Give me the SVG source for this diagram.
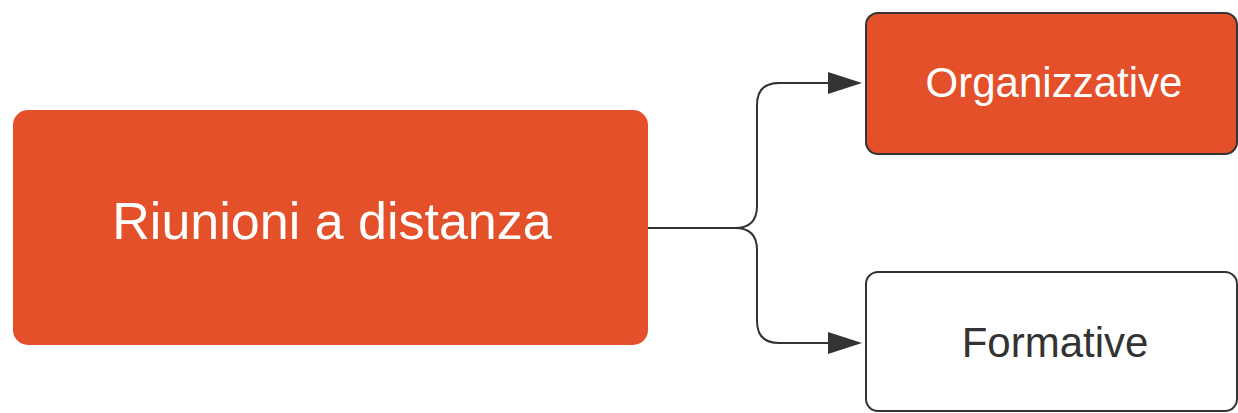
<svg xmlns="http://www.w3.org/2000/svg" width="1238" height="413" viewBox="0 0 1238 413">
<style>
.lbl{font-family:"Liberation Sans",Arial,sans-serif;text-anchor:middle}
.conn{fill:none;stroke:#333333;stroke-width:2}
</style>
<rect width="1238" height="413" fill="#ffffff"/>
<g id="connectors">
<path class="conn" d="M648,228 H735 Q757,228 757,206 V105 Q757,83 779,83 H828"/>
<path d="M828,72 L862,83 L828,94 Z" fill="#333333"/>
<path class="conn" d="M648,228 H735 Q757,228 757,250 V321 Q757,343 779,343 H828"/>
<path d="M828,332 L862,343 L828,354 Z" fill="#333333"/>
</g>
<g id="node-main">
<rect x="13" y="110" width="635" height="235" rx="15" fill="#E4502A"/>
<text class="lbl" x="332" y="239" font-size="52" fill="#ffffff">Riunioni a distanza</text>
</g>
<g id="node-org">
<rect x="866" y="13" width="371" height="141" rx="12" fill="#E4502A" stroke="#333333" stroke-width="2"/>
<text class="lbl" x="1054" y="97" font-size="42" fill="#ffffff">Organizzative</text>
</g>
<g id="node-form">
<rect x="866" y="272" width="371" height="139" rx="12" fill="#ffffff" stroke="#333333" stroke-width="2"/>
<text class="lbl" x="1055" y="357" font-size="42" fill="#333333">Formative</text>
</g>
</svg>
